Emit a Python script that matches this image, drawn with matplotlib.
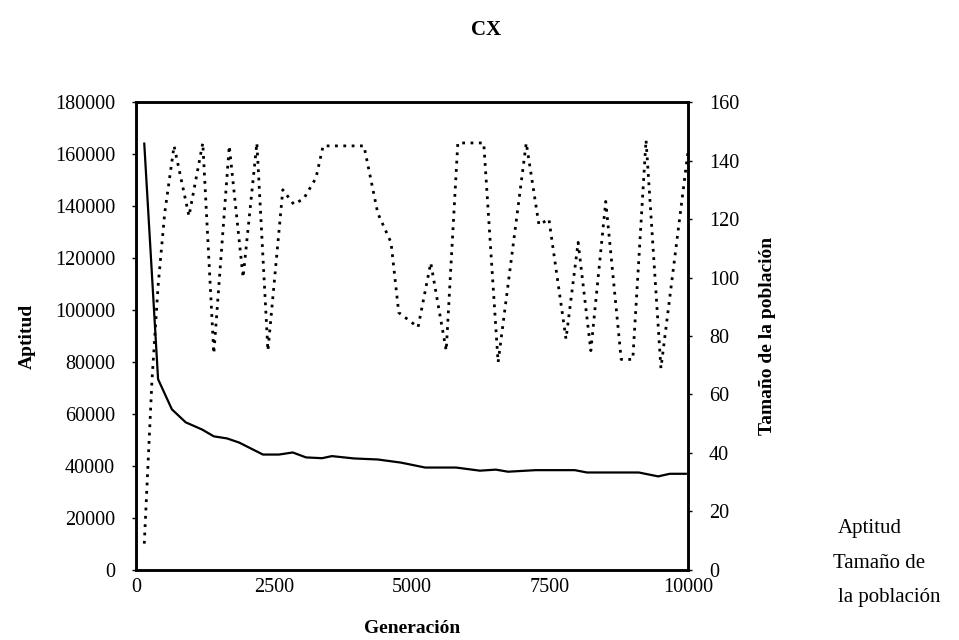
import numpy as np
import matplotlib
matplotlib.use("Agg")
import matplotlib.pyplot as plt

# Aptitud (left axis)
gen_apt = [150, 400, 650, 900, 1200, 1410, 1650, 1870, 2300, 2590, 2840, 3080,
           3370, 3550, 3950, 4380, 4800, 5240, 5800, 6230, 6520, 6740, 7240,
           7950, 8170, 9110, 9460, 9670, 9960]
aptitud = [164000, 73400, 61800, 56800, 54000, 51400, 50600, 49000, 44400, 44400,
           45200, 43300, 43000, 43800, 42900, 42500, 41300, 39400, 39400, 38200,
           38600, 37800, 38400, 38400, 37500, 37500, 36000, 37000, 37000]

# Tamaño de la población (right axis)
gen_pob = [150, 290, 400, 520, 690, 960, 1210, 1410, 1690, 1940, 2190, 2390,
           2660, 2860, 3040, 3260, 3390, 4130, 4380, 4620, 4760, 5110, 5340,
           5620, 5830, 6300, 6560, 7070, 7300, 7480, 7790, 8010, 8240, 8510,
           8790, 9000, 9240, 9510, 10000]
poblacion = [9, 65, 97, 122, 145, 121, 146, 74, 145, 100, 146, 75,
             130, 125, 127, 134, 145, 145, 122, 112, 88, 83, 105,
             75, 146, 146, 71, 146, 118, 120, 79, 112, 75, 126,
             72, 72, 147, 69, 143]

plt.rcParams['font.family'] = ['Liberation Serif', 'DejaVu Serif']

fig = plt.figure(figsize=(9.59, 6.4), dpi=100)
ax = fig.add_axes([0.1418, 0.1094, 0.5756, 0.7312])
ax2 = ax.twinx()

ax.plot(gen_apt, aptitud, color='black', lw=1.6)
ax2.plot(gen_pob, poblacion, color='black', lw=2.0, ls=(0, (1, 2)))

ax.set_xlim(0, 10000)
ax.set_ylim(0, 180000)
ax2.set_ylim(0, 160)
ax.set_xticks([0, 2500, 5000, 7500, 10000])
ax.set_yticks(np.arange(0, 180001, 20000))
ax2.set_yticks(np.arange(0, 161, 20))

for a in (ax, ax2):
    for s in a.spines.values():
        s.set_linewidth(1.8)
    a.tick_params(labelsize=14.5, length=3, width=1, direction='out')
ax.tick_params(axis='y', pad=12)
ax2.tick_params(axis='y', pad=12)
ax.tick_params(axis='x', length=0, pad=6)

ax.set_xlabel('Generación', fontsize=14, fontweight='bold', labelpad=16)
ax.set_ylabel('Aptitud', fontsize=14, fontweight='bold', labelpad=14)
ax2.set_ylabel('Tamaño de la población', fontsize=14, fontweight='bold', labelpad=14)

fig.text(0.507, 0.953, 'CX', fontsize=15, fontweight='bold', ha='center', va='center')

# legend text (symbols are lost in the original scan)
fig.text(0.874, 0.175, 'Aptitud', fontsize=15, ha='left', va='center')
fig.text(0.869, 0.120, 'Tamaño de', fontsize=15, ha='left', va='center')
fig.text(0.874, 0.066, 'la población', fontsize=15, ha='left', va='center')

fig.savefig('out.png', dpi=100)
